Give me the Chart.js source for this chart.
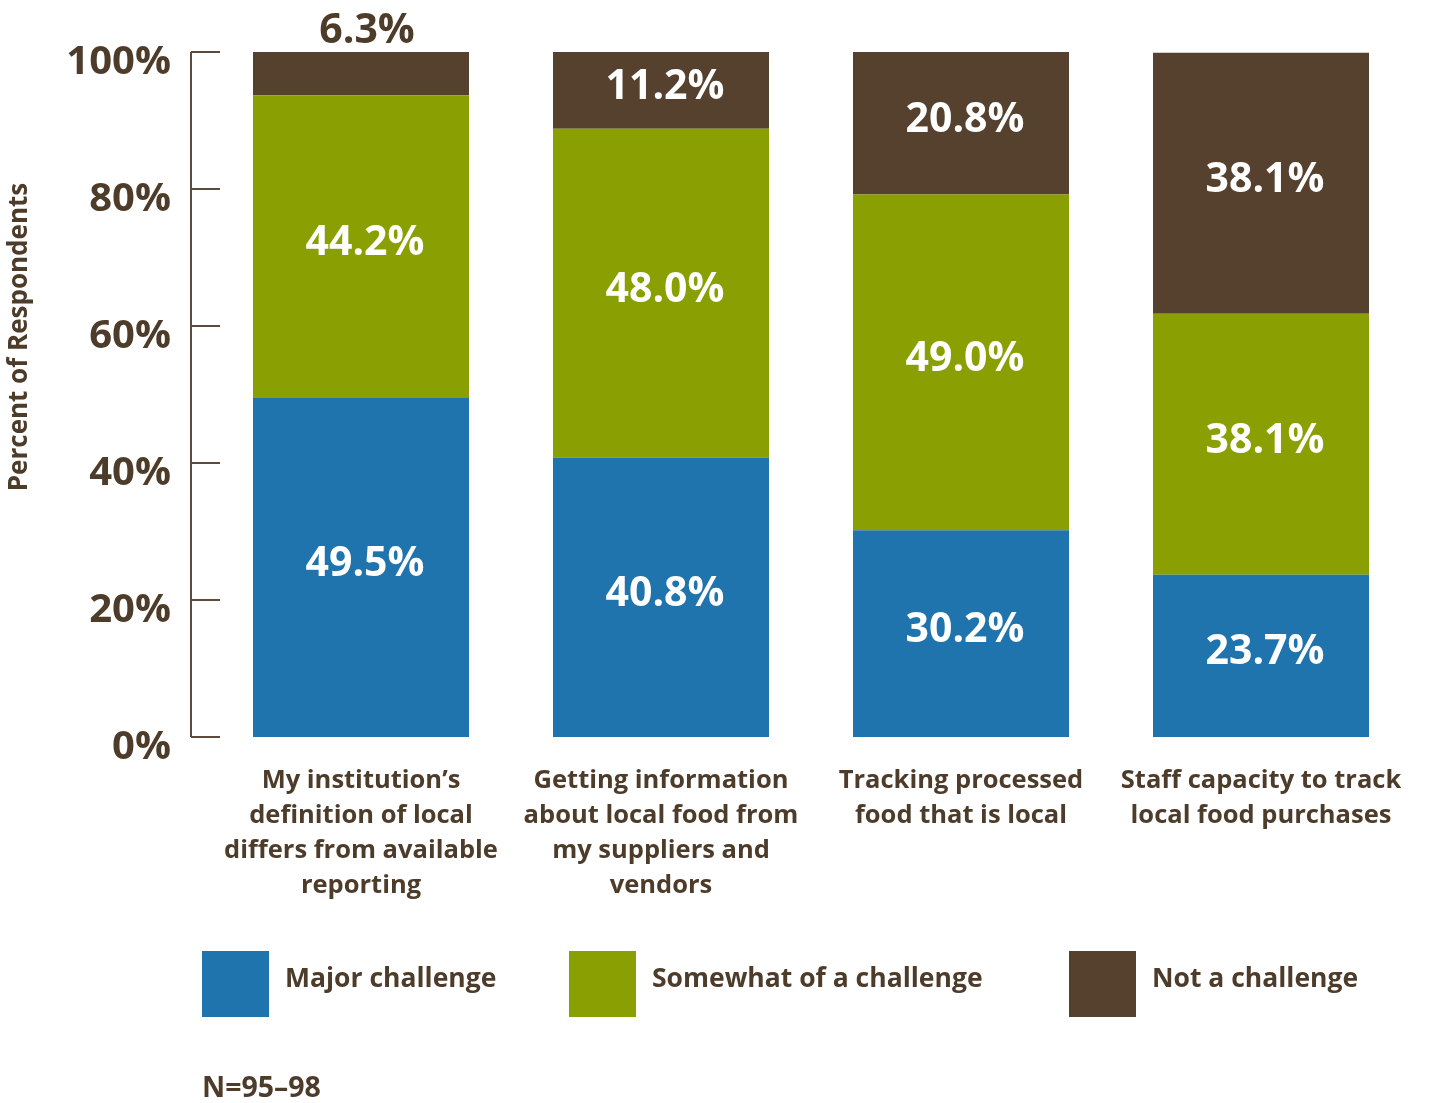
<!DOCTYPE html>
<html>
<head>
<meta charset="utf-8">
<title>Local food tracking challenges</title>
<script src="https://cdn.jsdelivr.net/npm/chart.js@4.4.1/dist/chart.umd.min.js"></script>
<style>
  html, body { margin: 0; padding: 0; background: #fff; }
  #wrap { position: relative; width: 1432px; height: 1103px; }
</style>
</head>
<body>
<div id="wrap"><canvas id="challengeChart"></canvas></div>
<script>
// chart data
const categories = [
    ['My institution\u2019s', 'definition of local', 'differs from available', 'reporting'],
    ['Getting information', 'about local food from', 'my suppliers and', 'vendors'],
    ['Tracking processed', 'food that is local'],
    ['Staff capacity to track', 'local food purchases']
];
const seriesNames = ['Major challenge', 'Somewhat of a challenge', 'Not a challenge'];
const majorChallenge = [49.5, 40.8, 30.2, 23.7];
const somewhatChallenge = [44.2, 48.0, 49.0, 38.1];
const notChallenge = [6.3, 11.2, 20.8, 38.1];
const yTicks = [0, 20, 40, 60, 80, 100];
const sampleNote = 'N=95\u201398';
const yTitle = 'Percent of Respondents';

const FONT = '"Open Sans", Lato, sans-serif';
const TEXT = '#4e3c2b';
const colors = ['#2074ae', '#8aa002', '#55412d'];

// axis line with short inward ticks
const axisPlugin = {
    id: 'axisLine',
    afterDraw(chart) {
        const ctx = chart.ctx;
        const y = chart.scales.y;
        const x0 = chart.chartArea.left - 20;
        ctx.save();
        ctx.strokeStyle = '#5e4a3a';
        ctx.lineWidth = 2;
        ctx.beginPath();
        ctx.moveTo(x0, y.getPixelForValue(0));
        ctx.lineTo(x0, y.getPixelForValue(100));
        yTicks.forEach(t => {
            const py = y.getPixelForValue(t);
            ctx.moveTo(x0, py);
            ctx.lineTo(x0 + 29, py);
        });
        ctx.stroke();

        // rotated y title
        ctx.translate(20, 337);
        ctx.rotate(-Math.PI / 2);
        ctx.fillStyle = TEXT;
        ctx.font = 'bold 26px ' + FONT;
        ctx.textAlign = 'center';
        ctx.textBaseline = 'middle';
        ctx.fillText(yTitle, 0, 0);
        ctx.restore();
    }
};

// value labels on each segment
const valuePlugin = {
    id: 'valueLabels',
    afterDatasetsDraw(chart) {
        const ctx = chart.ctx;
        ctx.save();
        ctx.font = 'bold 41px ' + FONT;
        ctx.textAlign = 'center';
        ctx.textBaseline = 'middle';
        chart.data.datasets.forEach((ds, i) => {
            chart.getDatasetMeta(i).data.forEach((bar, j) => {
                const v = ds.data[j];
                const txt = v.toFixed(1) + '%';
                if (v < 8) {
                    ctx.fillStyle = TEXT;
                    ctx.fillText(txt, bar.x + 6, Math.min(bar.y, bar.base) - 21);
                } else {
                    ctx.fillStyle = '#ffffff';
                    ctx.fillText(txt, bar.x + 4, (bar.y + bar.base) / 2 - 3);
                }
            });
        });
        ctx.restore();
    }
};

// legend row and sample note under the chart
const legendPlugin = {
    id: 'bottomLegend',
    afterDraw(chart) {
        const ctx = chart.ctx;
        const boxX = [202, 569, 1069];
        ctx.save();
        ctx.font = 'bold 26.5px ' + FONT;
        ctx.textBaseline = 'middle';
        chart.data.datasets.forEach((ds, i) => {
            ctx.fillStyle = ds.backgroundColor;
            ctx.fillRect(boxX[i], 951, 67, 66);
            ctx.fillStyle = TEXT;
            ctx.fillText(ds.label, boxX[i] + 83, 979);
        });
        ctx.font = 'bold 28.5px ' + FONT;
        ctx.fillText(sampleNote, 202, 1089);
        ctx.restore();
    }
};

const ctx = document.getElementById('challengeChart').getContext('2d');
const challengeChart = new Chart(ctx, {
    type: 'bar',
    data: {
        labels: categories,
        datasets: [
            { label: seriesNames[0], data: majorChallenge, backgroundColor: colors[0] },
            { label: seriesNames[1], data: somewhatChallenge, backgroundColor: colors[1] },
            { label: seriesNames[2], data: notChallenge, backgroundColor: colors[2] }
        ]
    },
    options: {
        responsive: true,
        maintainAspectRatio: false,
        animation: false,
        layout: { padding: { top: 52, right: 21, left: 0, bottom: 0 } },
        datasets: {
            bar: { categoryPercentage: 1, barPercentage: 0.72 }
        },
        plugins: {
            legend: { display: false },
            tooltip: { enabled: false }
        },
        scales: {
            x: {
                stacked: true,
                grid: { display: false, drawTicks: false },
                border: { display: false },
                ticks: {
                    color: TEXT,
                    padding: 26,
                    maxRotation: 0,
                    autoSkip: false,
                    font: { family: FONT, size: 25.5, weight: 'bold', lineHeight: 1.37 }
                },
                afterFit(scale) { scale.height = 366; }
            },
            y: {
                stacked: true,
                min: 0,
                max: 100,
                grid: { display: false, drawTicks: false },
                border: { display: false },
                ticks: {
                    stepSize: 20,
                    color: TEXT,
                    padding: 40,
                    labelOffset: 11,
                    font: { family: FONT, size: 40, weight: 'bold' },
                    callback: v => v + '%'
                },
                afterFit(scale) {
                    scale.width = 211;
                    // keep the label overflow from pushing the plot area down
                    scale.paddingTop = 0;
                    scale.paddingBottom = 0;
                }
            }
        }
    },
    plugins: [axisPlugin, valuePlugin, legendPlugin]
});
</script>
</body>
</html>
